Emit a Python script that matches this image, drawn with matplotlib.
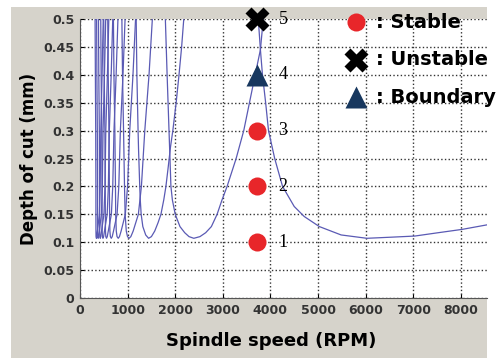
import matplotlib.pyplot as plt
from matplotlib.patches import Rectangle

# Stability lobes (spindle speed in RPM, depth of cut in mm)
lobe0_rpm = [3745, 3790, 3833, 3900, 3960, 4090, 4255, 4500, 4711, 5028, 5485, 6027, 6540, 7032, 7525, 8030, 8544, 8700]
lobe0_depth = [0.5, 0.445, 0.4, 0.35, 0.3, 0.25, 0.2, 0.164, 0.146, 0.128, 0.113, 0.107, 0.109, 0.111, 0.117, 0.123, 0.131, 0.134]

lobe1_rpm = [1793, 1830, 1870, 1890, 1910, 1940, 2000, 2100, 2200, 2290, 2391, 2520, 2640, 2760, 2880, 2980, 3090, 3280, 3440, 3560, 3680, 3790, 3850]
lobe1_depth = [0.5, 0.4, 0.3, 0.25, 0.2, 0.176, 0.15, 0.128, 0.117, 0.11, 0.107, 0.11, 0.117, 0.128, 0.15, 0.175, 0.2, 0.25, 0.3, 0.35, 0.4, 0.445, 0.5]

lobe2_rpm = [1180, 1195, 1220, 1230, 1255, 1266, 1285, 1320, 1380, 1441, 1500, 1570, 1640, 1700, 1760, 1805, 1855, 1900, 1950, 2020, 2080, 2135, 2180]
lobe2_depth = [0.5, 0.4, 0.3, 0.266, 0.2, 0.176, 0.15, 0.128, 0.113, 0.107, 0.11, 0.12, 0.135, 0.15, 0.176, 0.2, 0.236, 0.27, 0.3, 0.35, 0.4, 0.45, 0.5]

# narrow lobes at low speed share one depth grid
small_depth = [0.5, 0.4, 0.3, 0.2, 0.15, 0.12, 0.11, 0.107, 0.11, 0.12, 0.15, 0.2, 0.3, 0.4, 0.5]
small_lobes = [
    [880, 893, 915, 935, 948, 972, 998, 1031, 1068, 1117, 1226, 1290, 1361, 1450, 1520],
    [702, 713, 732, 745, 750, 762, 778, 803, 829, 864, 952, 999, 1045, 1113, 1167],
    [583, 593, 608, 617, 622, 628, 638, 657, 677, 704, 779, 815, 848, 903, 947],
    [499, 508, 523, 530, 532, 535, 542, 556, 573, 594, 659, 688, 714, 759, 797],
    [436, 444, 457, 462, 464, 466, 471, 482, 496, 514, 571, 596, 616, 655, 688],
    [388, 395, 406, 410, 411, 413, 416, 426, 437, 453, 503, 525, 542, 576, 605],
    [349, 355, 364, 368, 368, 369, 372, 381, 391, 405, 450, 469, 484, 514, 540],
    [317, 323, 330, 334, 334, 335, 337, 345, 354, 366, 407, 424, 437, 464, 488],
]

# test points
test_rpm = 3727
stable_depth = [0.1, 0.2, 0.3]
boundary_depth = [0.4]
unstable_depth = [0.5]
point_labels = ['1', '2', '3', '4', '5']
point_depth = [0.1, 0.2, 0.3, 0.4, 0.5]

x_ticks = [0, 1000, 2000, 3000, 4000, 5000, 6000, 7000, 8000]
y_ticks = [0, 0.05, 0.1, 0.15, 0.2, 0.25, 0.3, 0.35, 0.4, 0.45, 0.5]
y_tick_labels = ['0', '0.05', '0.1', '0.15', '0.2', '0.25', '0.3', '0.35', '0.4', '0.45', '0.5']

fig = plt.figure(figsize=(5.04, 3.58), dpi=100, facecolor='white')
bg = Rectangle((11 / 504, 0), 476 / 504, 351 / 358, transform=fig.transFigure,
               facecolor='#d6d3cb', edgecolor='none', zorder=-10)
fig.add_artist(bg)
ax = fig.add_axes([80 / 504, 60 / 358, 407 / 504, 279 / 358])
ax.set_facecolor('white')

line_color = '#5a5ab4'
ax.plot(lobe0_rpm, lobe0_depth, color=line_color, lw=0.9)
ax.plot(lobe1_rpm, lobe1_depth, color=line_color, lw=0.9)
ax.plot(lobe2_rpm, lobe2_depth, color=line_color, lw=0.9)
for lobe in small_lobes:
    ax.plot(lobe, small_depth, color=line_color, lw=0.9)

ax.plot([test_rpm] * len(stable_depth), stable_depth, 'o', color='#e8262a', ms=13, mec='none', zorder=5)
ax.plot([test_rpm] * len(boundary_depth), boundary_depth, '^', color='#17375e', ms=16, mec='none', zorder=5)
ax.plot([test_rpm] * len(unstable_depth), unstable_depth, 'X', color='black', ms=17, mec='none',
        zorder=6, clip_on=False)
for lab, d in zip(point_labels, point_depth):
    ax.text(4170, d, lab, fontsize=13, family='Liberation Serif', ha='left', va='center', zorder=6)

# legend drawn by hand like the original
leg_font = dict(fontsize=14, fontweight='bold', family='DejaVu Sans', va='center', clip_on=False)
ax.plot(5800, 0.494, 'o', color='#e8262a', ms=13, mec='none', clip_on=False, zorder=6)
ax.text(6220, 0.494, ': Stable', **leg_font)
ax.plot(5800, 0.427, 'X', color='black', ms=17, mec='none', clip_on=False, zorder=6)
ax.text(6220, 0.427, ': Unstable', **leg_font)
ax.plot(5800, 0.36, '^', color='#17375e', ms=16, mec='none', clip_on=False, zorder=6)
ax.text(6220, 0.36, ': Boundary', **leg_font)

ax.set_xlim(0, 8550)
ax.set_ylim(0, 0.5)
ax.set_xticks(x_ticks)
ax.set_yticks(y_ticks)
ax.set_yticklabels(y_tick_labels)
ax.tick_params(direction='in', length=3, labelsize=9, labelcolor='#333333', pad=4)
for lbl in ax.get_xticklabels() + ax.get_yticklabels():
    lbl.set_fontweight('bold')
ax.grid(True, linestyle=':', color='#333333', lw=1.0)
ax.spines['top'].set_visible(False)
ax.spines['right'].set_visible(False)
ax.spines['left'].set_color('#555555')
ax.spines['bottom'].set_color('#555555')

ax.set_xlabel('Spindle speed (RPM)', fontsize=13, fontweight='bold')
ax.set_ylabel('Depth of cut (mm)', fontsize=12, fontweight='bold')
ax.xaxis.set_label_coords(0.469, -0.122)
ax.yaxis.set_label_coords(-0.103, 0.5)

plt.savefig('out.png', dpi=100)
